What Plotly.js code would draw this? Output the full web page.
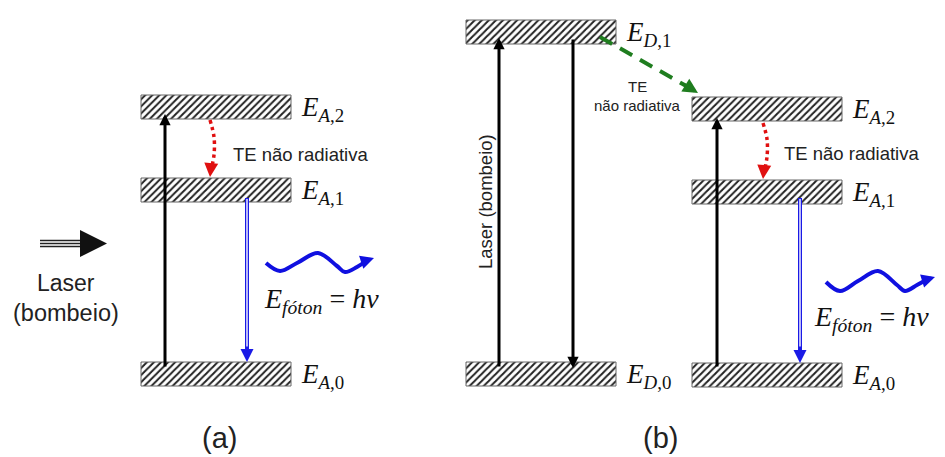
<!DOCTYPE html>
<html><head><meta charset="utf-8">
<script src="https://cdn.plot.ly/plotly-3.0.1.min.js"></script>
<style>html,body{margin:0;padding:0;background:#fff}</style>
</head><body><div id="chart" style="width:945px;height:457px"></div>
<script>
// Energy levels (diagram coordinates: x centre, top of level band)
const levelNames = ['A,2', 'A,1', 'A,0', 'D,1', 'D,0', 'A,2', 'A,1', 'A,0'];
const levelCenter = [216, 216, 216, 541, 541, 767, 767, 767];
const levelTop = [95, 178, 362, 20, 362, 97, 180, 363];
const levelBand = [24, 24, 24, 24, 24, 24, 24, 24];

// Photon wave paths
const waveAx = [266, 280, 297, 318, 337, 345, 357, 366];
const waveAy = [263, 271, 263, 253, 266, 272, 267, 261];
const waveBx = [826, 840, 858, 878, 897, 905, 917, 926];
const waveBy = [282, 291, 281, 271, 285, 291, 285, 280];

const levelW = 150;
const traces = [];
traces.push({
  type: 'bar', x: levelCenter, y: levelBand, base: levelTop, width: levelW,
  marker: {color: 'white', line: {color: '#666', width: 1},
    pattern: {shape: '/', fgcolor: '#222', bgcolor: 'white', size: 5, solidity: 0.4}},
  hoverinfo: 'skip', showlegend: false
});
function line(x, y, opts) {
  traces.push(Object.assign({type: 'scatter', mode: 'lines', x: x, y: y, hoverinfo: 'skip', showlegend: false}, opts));
}
// waves
line(waveAx, waveAy, {line: {color: '#1010e0', width: 4, shape: 'spline'}});
line(waveBx, waveBy, {line: {color: '#1010e0', width: 4, shape: 'spline'}});
// blue double-line emission arrows
[247, 800].forEach(function (xc) {
  line([xc, xc], [levelTop[1] + 20, 352], {line: {color: '#1a1ae6', width: 4}});
  line([xc, xc], [levelTop[1] + 21, 352], {line: {color: 'white', width: 1.4}});
});
// red dotted relaxation
line([210, 214, 214, 211], [120, 137, 155, 170], {line: {color: '#e01010', width: 3.5, dash: 'dot', shape: 'spline'}});
line([763, 767, 767, 764], [123, 139, 157, 172], {line: {color: '#e01010', width: 3.5, dash: 'dot', shape: 'spline'}});
// green dashed transfer
line([600, 688], [37, 87], {line: {color: '#1f7d1f', width: 4, dash: '14px,9px'}});
// laser triple line
[240.5, 243.5, 246.5].forEach(function (yy) {
  line([40, 86], [yy, yy], {line: {color: '#222', width: 1.5}});
});

const ann = [];
function arrow(x0, y0, x1, y1, color, w, size) {
  ann.push({x: x1, y: y1, ax: x0, ay: y0, xref: 'x', yref: 'y', axref: 'x', ayref: 'y',
    text: '', showarrow: true, arrowhead: 2, arrowwidth: w, arrowsize: size, arrowcolor: color});
}
function txt(x, y, t, size, opts) {
  ann.push(Object.assign({x: x, y: y, xref: 'x', yref: 'y', text: t, showarrow: false,
    font: {family: 'Liberation Sans, Arial', size: size, color: '#222'}}, opts || {}));
}
// black pump / decay arrows
arrow(165, 368, 165, 114, 'black', 3, 0.75);
arrow(499, 368, 499, 38, 'black', 3, 0.75);
arrow(573, 38, 573, 368, 'black', 3, 0.75);
arrow(717, 368, 717, 118, 'black', 3, 0.75);
// blue heads
arrow(247, 345, 247, 362, '#1a1ae6', 2, 1.3);
arrow(800, 345, 800, 363, '#1a1ae6', 2, 1.3);
// red heads
arrow(211, 166, 210, 177, '#e01010', 2, 1.4);
arrow(764, 168, 763, 179, '#e01010', 2, 1.4);
// green head
arrow(682, 83, 698, 93, '#1f7d1f', 3, 1.0);
// wave heads
arrow(362, 262, 374, 258, '#1010e0', 3, 0.9);
arrow(922, 281, 935, 277, '#1010e0', 3, 0.9);
// laser head
arrow(80, 243.5, 107, 243.5, '#111', 6, 0.9);

// level labels
for (let i = 0; i < levelNames.length; i++) {
  const p = levelNames[i].split(',');
  txt(levelCenter[i] + levelW / 2 + 8, levelTop[i] + 14,
    '<i>E</i><sub><i>' + p[0] + '</i>,' + p[1] + '</sub>', 27,
    {xanchor: 'left', font: {family: 'Liberation Serif', size: 27, color: '#111'}});
}
txt(231, 154, 'TE não radiativa', 18.5, {xanchor: 'left'});
txt(782, 153, 'TE não radiativa', 18.5, {xanchor: 'left'});
txt(637, 86, 'TE', 15);
txt(637, 105, 'não radiativa', 15);
txt(66, 283, 'Laser', 23);
txt(66, 313, '(bombeio)', 23.5);
txt(485, 202, 'Laser (bombeio)', 18.5, {textangle: -90});
txt(262, 300, '<i>E</i><sub><i>fóton</i></sub> = <i>hν</i>', 28,
  {xanchor: 'left', font: {family: 'Liberation Serif', size: 28, color: '#111'}});
txt(812, 318, '<i>E</i><sub><i>fóton</i></sub> = <i>hν</i>', 28,
  {xanchor: 'left', font: {family: 'Liberation Serif', size: 28, color: '#111'}});
txt(219, 438, '(a)', 29);
txt(660, 438, '(b)', 29);

const layout = {
  width: 945, height: 457, margin: {l: 0, r: 0, t: 0, b: 0},
  paper_bgcolor: 'white', plot_bgcolor: 'white', showlegend: false,
  xaxis: {range: [0, 945], visible: false, fixedrange: true},
  yaxis: {range: [457, 0], visible: false, fixedrange: true},
  annotations: ann
};
Plotly.newPlot('chart', traces, layout, {staticPlot: true});
</script></body></html>
